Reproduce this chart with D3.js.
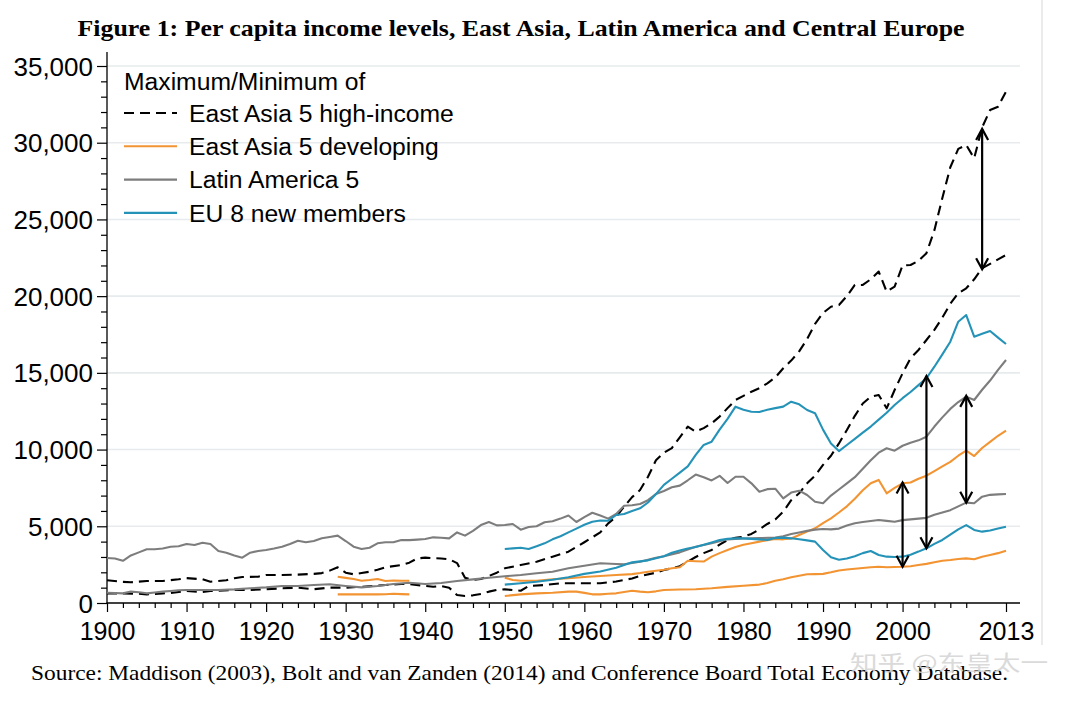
<!DOCTYPE html>
<html><head><meta charset="utf-8">
<script src="https://cdn.jsdelivr.net/npm/d3@7"></script>
<style>html,body{margin:0;padding:0;background:#fff;}svg{display:block;}</style>
</head><body>
<script>
// ---------- data ----------
const eahiMax = [[1900,1480],[1902,1380],[1903,1350],[1905,1430],[1907,1430],[1909,1545],[1910,1620],[1912,1545],[1913,1390],[1915,1480],[1916,1610],[1917,1690],[1919,1715],[1920,1825],[1922,1825],[1924,1850],[1926,1900],[1927,1950],[1928,2110],[1929,2325],[1930,1975],[1931,1870],[1932,1950],[1933,2040],[1934,2170],[1935,2330],[1937,2480],[1938,2630],[1939,2910],[1940,2955],[1941,2920],[1942,2900],[1943,2850],[1944,2600],[1945,1650],[1946,1500],[1947,1560],[1948,1760],[1949,1975],[1950,2260],[1952,2475],[1954,2690],[1956,3020],[1958,3345],[1960,3960],[1962,4600],[1963,5190],[1964,5625],[1965,6280],[1966,6900],[1967,7365],[1968,8230],[1969,9300],[1970,9800],[1971,10100],[1972,10800],[1973,11490],[1974,11165],[1975,11400],[1976,11710],[1977,12150],[1978,12700],[1979,13230],[1980,13500],[1981,13770],[1982,14000],[1983,14320],[1984,14700],[1985,15300],[1986,15800],[1987,16400],[1988,17200],[1989,18200],[1990,18900],[1991,19310],[1992,19420],[1993,20000],[1994,20730],[1995,20730],[1996,21100],[1997,21600],[1998,20290],[1999,20620],[2000,22000],[2001,22030],[2002,22300],[2003,22800],[2004,24300],[2005,26400],[2006,28400],[2007,29600],[2008,29850],[2009,28985],[2010,31000],[2011,32130],[2012,32350],[2013,33330]];
const eahiMin = [[1900,630],[1902,630],[1904,600],[1905,560],[1907,630],[1908,650],[1910,780],[1912,720],[1913,780],[1916,850],[1918,850],[1920,900],[1922,960],[1924,1000],[1926,900],[1928,1000],[1930,1000],[1932,1060],[1935,1170],[1937,1240],[1938,1240],[1940,1110],[1941,1060],[1942,1110],[1943,1000],[1944,520],[1945,455],[1946,500],[1947,590],[1948,740],[1949,850],[1950,890],[1951,850],[1952,800],[1953,1110],[1955,1170],[1957,1285],[1960,1285],[1962,1285],[1964,1400],[1966,1600],[1967,1760],[1969,1975],[1970,2150],[1971,2260],[1972,2400],[1973,2700],[1974,3000],[1975,3250],[1976,3455],[1977,3800],[1978,4110],[1979,4250],[1980,4320],[1981,4500],[1982,4800],[1983,5150],[1984,5450],[1985,5950],[1986,6700],[1987,7150],[1988,7800],[1989,8300],[1990,9000],[1991,9600],[1992,10400],[1993,11275],[1994,12200],[1995,13000],[1996,13450],[1997,13560],[1998,12690],[1999,13880],[2000,14970],[2001,15950],[2002,16490],[2003,17140],[2004,17800],[2005,18600],[2006,19500],[2007,20190],[2008,20510],[2009,21100],[2010,21815],[2011,22100],[2012,22400],[2013,22680]];
const eadvMax = [[1929,1715],[1930,1640],[1931,1560],[1932,1450],[1933,1500],[1934,1565],[1935,1430],[1936,1470],[1937,1450],[1938,1450],[1939,null],[1949,null],[1950,1650],[1951,1500],[1952,1450],[1954,1450],[1956,1545],[1958,1610],[1960,1690],[1962,1760],[1964,1825],[1966,1880],[1967,1950],[1968,2040],[1970,2170],[1971,2260],[1972,2330],[1973,2750],[1974,2720],[1975,2700],[1976,3020],[1977,3250],[1978,3450],[1979,3650],[1980,3800],[1981,3900],[1982,4000],[1983,4100],[1984,4170],[1985,4150],[1986,4200],[1987,4430],[1988,4650],[1989,4870],[1990,5200],[1991,5520],[1992,5900],[1993,6300],[1994,6800],[1995,7350],[1996,7800],[1997,8020],[1998,7150],[1999,7500],[2000,7800],[2001,7850],[2002,8100],[2003,8300],[2004,8600],[2005,8900],[2006,9200],[2007,9600],[2008,9930],[2009,9580],[2010,10100],[2011,10500],[2012,10900],[2013,11230]];
const eadvMin = [[1929,565],[1930,560],[1932,560],[1934,560],[1935,575],[1936,600],[1937,580],[1938,565],[1939,null],[1949,null],[1950,455],[1952,565],[1954,630],[1956,670],[1958,740],[1959,740],[1960,660],[1961,565],[1962,565],[1963,600],[1964,630],[1966,800],[1967,740],[1968,700],[1969,760],[1970,850],[1972,880],[1974,900],[1976,960],[1978,1050],[1980,1120],[1982,1200],[1983,1300],[1984,1450],[1985,1550],[1986,1680],[1987,1780],[1988,1870],[1989,1880],[1990,1900],[1991,2000],[1992,2120],[1993,2180],[1994,2230],[1995,2280],[1996,2330],[1997,2365],[1998,2330],[1999,2350],[2000,2365],[2001,2400],[2002,2475],[2003,2550],[2004,2650],[2005,2750],[2006,2800],[2007,2870],[2008,2910],[2009,2850],[2010,3020],[2011,3130],[2012,3250],[2013,3410]];
const laMax = [[1900,2930],[1901,2900],[1902,2750],[1903,3100],[1904,3300],[1905,3500],[1906,3500],[1907,3550],[1908,3670],[1909,3700],[1910,3845],[1911,3780],[1912,3930],[1913,3845],[1914,3390],[1915,3280],[1916,3100],[1917,2955],[1918,3280],[1919,3390],[1920,3450],[1921,3550],[1922,3670],[1923,3850],[1924,4060],[1925,3955],[1926,4040],[1927,4215],[1928,4300],[1929,4390],[1930,4040],[1931,3670],[1932,3520],[1933,3600],[1934,3890],[1935,3955],[1936,3955],[1937,4100],[1938,4100],[1939,4130],[1940,4170],[1941,4280],[1942,4250],[1943,4215],[1944,4600],[1945,4390],[1946,4700],[1947,5080],[1948,5280],[1949,5060],[1950,5080],[1951,5150],[1952,4780],[1953,4950],[1954,5000],[1955,5260],[1956,5330],[1957,5500],[1958,5700],[1959,5280],[1960,5600],[1961,5885],[1962,5700],[1963,5500],[1964,5800],[1965,6340],[1966,6370],[1967,6450],[1968,6700],[1969,7100],[1970,7300],[1971,7540],[1972,7650],[1973,8000],[1974,8370],[1975,8200],[1976,7990],[1977,8290],[1978,7820],[1979,8230],[1980,8230],[1981,7800],[1982,7250],[1983,7420],[1984,7450],[1985,6820],[1986,7200],[1987,7320],[1988,7040],[1989,6600],[1990,6500],[1991,7000],[1992,7400],[1993,7800],[1994,8200],[1995,8750],[1996,9300],[1997,9800],[1998,10085],[1999,9930],[2000,10250],[2001,10450],[2002,10600],[2003,10840],[2004,11500],[2005,12100],[2006,12650],[2007,13100],[2008,13450],[2009,13230],[2010,13900],[2011,14500],[2012,15200],[2013,15840]];
const laMin = [[1900,670],[1901,650],[1902,630],[1903,740],[1904,700],[1905,630],[1906,680],[1907,740],[1908,780],[1909,830],[1910,850],[1912,850],[1914,850],[1916,890],[1918,960],[1920,1020],[1922,1110],[1924,1110],[1926,1170],[1928,1220],[1930,1110],[1932,1020],[1934,1110],[1936,1240],[1938,1320],[1940,1240],[1942,1300],[1944,1430],[1946,1540],[1948,1650],[1950,1740],[1952,1825],[1954,1935],[1956,2040],[1958,2260],[1960,2430],[1962,2590],[1964,2540],[1965,2520],[1967,2690],[1969,2950],[1970,3050],[1972,3300],[1974,3670],[1976,3890],[1978,4150],[1980,4200],[1982,4230],[1984,4260],[1985,4350],[1986,4500],[1987,4600],[1988,4700],[1989,4780],[1990,4820],[1991,4800],[1992,4850],[1993,5050],[1994,5200],[1995,5280],[1996,5350],[1997,5410],[1998,5350],[1999,5300],[2000,5400],[2001,5450],[2002,5500],[2003,5550],[2004,5750],[2005,5900],[2006,6050],[2007,6300],[2008,6540],[2009,6500],[2010,6930],[2011,7050],[2012,7080],[2013,7105]];
const euMax = [[1950,3520],[1951,3560],[1952,3600],[1953,3520],[1954,3700],[1955,3890],[1956,4150],[1957,4350],[1958,4600],[1959,4850],[1960,5100],[1961,5300],[1962,5380],[1963,5365],[1964,5735],[1965,5800],[1966,6000],[1967,6170],[1968,6550],[1969,7100],[1970,7700],[1971,8100],[1972,8500],[1973,8900],[1974,9650],[1975,10300],[1976,10515],[1977,11300],[1978,12000],[1979,12795],[1980,12600],[1981,12470],[1982,12450],[1983,12600],[1984,12700],[1985,12800],[1986,13120],[1987,12950],[1988,12580],[1989,12365],[1990,11300],[1991,10400],[1992,9900],[1993,10300],[1994,10700],[1995,11100],[1996,11500],[1997,11950],[1998,12400],[1999,12900],[2000,13350],[2001,13750],[2002,14200],[2003,14650],[2004,15400],[2005,16200],[2006,17030],[2007,18335],[2008,18770],[2009,17360],[2010,17550],[2011,17730],[2012,17300],[2013,16880]];
const euMin = [[1950,1200],[1952,1285],[1954,1390],[1956,1520],[1958,1680],[1960,1900],[1962,2050],[1964,2300],[1966,2650],[1968,2780],[1970,3050],[1971,3280],[1972,3420],[1973,3550],[1974,3650],[1975,3800],[1976,3950],[1977,4100],[1978,4180],[1979,4210],[1980,4215],[1981,4180],[1982,4150],[1983,4110],[1984,4230],[1985,4260],[1986,4215],[1987,4150],[1988,4080],[1989,4000],[1990,3455],[1991,2980],[1992,2820],[1993,2900],[1994,3050],[1995,3250],[1996,3390],[1997,3130],[1998,3020],[1999,3000],[2000,3020],[2001,3150],[2002,3350],[2003,3565],[2004,3850],[2005,4110],[2006,4450],[2007,4800],[2008,5080],[2009,4760],[2010,4650],[2011,4720],[2012,4850],[2013,4975]];
const arrowYears = [2000, 2003, 2008, 2010];
const arrowLow = [2365, 3565, 6540, 21750];
const arrowHigh = [7850, 14800, 13500, 30900];
const legendLabels = ["East Asia 5 high-income","East Asia 5 developing","Latin America 5","EU 8 new members"];
const yMajorTicks = [0,5000,10000,15000,20000,25000,30000,35000];
const xLabelTicks = [1900,1910,1920,1930,1940,1950,1960,1970,1980,1990,2000,2013];
const titleText = "Figure 1: Per capita income levels, East Asia, Latin America and Central Europe";
const sourceText = "Source: Maddison (2003), Bolt and van Zanden (2014) and Conference Board Total Economy Database.";

// ---------- styles ----------
const C_ORANGE = "#f39433", C_GREY = "#7d7d7d", C_BLUE = "#2593b8", C_BLACK = "#000";
const series = [
  {data: eahiMax, color: C_BLACK, dash: "10,6"},
  {data: eahiMin, color: C_BLACK, dash: "10,6"},
  {data: eadvMax, color: C_ORANGE},
  {data: eadvMin, color: C_ORANGE},
  {data: laMax, color: C_GREY},
  {data: laMin, color: C_GREY},
  {data: euMax, color: C_BLUE},
  {data: euMin, color: C_BLUE}
];

const W = 1078, H = 702;
const svg = d3.select("body").append("svg").attr("width", W).attr("height", H);
const x = d3.scaleLinear().domain([1900, 2013]).range([107, 1006]);
const y = d3.scaleLinear().domain([0, 35000]).range([603, 66]);
const SANS = "'Liberation Sans', Arial, sans-serif";
const SERIF = "'Liberation Serif', 'Times New Roman', serif";

// image border line at right
svg.append("line").attr("x1",1042).attr("x2",1042).attr("y1",0).attr("y2",645).attr("stroke","#e4e4e4").attr("stroke-width",1.5);

// gridlines
svg.append("g").selectAll("line").data(yMajorTicks.filter(d=>d>0)).join("line")
  .attr("x1", 107).attr("x2", 1020).attr("y1", d=>y(d)).attr("y2", d=>y(d))
  .attr("stroke", "#e7ebed").attr("stroke-width", 1.6);

// title
svg.append("text").attr("x", 521).attr("y", 36).attr("text-anchor","middle")
  .attr("font-family", SERIF).attr("font-weight","bold").attr("font-size", 22.5)
  .attr("textLength", 887).attr("lengthAdjust","spacingAndGlyphs").text(titleText);

// y axis
const yMinor = d3.range(0, 35001, 1000).filter(d => d % 5000 !== 0);
const gyMinor = svg.append("g").attr("transform","translate(107,0)")
  .call(d3.axisLeft(y).tickValues(yMinor).tickSize(6).tickFormat(""));
gyMinor.select(".domain").remove();
gyMinor.selectAll("line").attr("stroke","#000").attr("stroke-width",1.2);
const gy = svg.append("g").attr("transform","translate(107,0)")
  .call(d3.axisLeft(y).tickValues(yMajorTicks).tickSize(10).tickPadding(4).tickFormat(d3.format(",")));
gy.select(".domain").remove();
gy.selectAll("line").attr("stroke","#000").attr("stroke-width",1.2);
gy.selectAll("text").attr("font-family", SANS).attr("font-size", 26).attr("fill","#000").attr("dy","0.35em");
svg.append("line").attr("x1",107).attr("x2",107).attr("y1",603.5).attr("y2",52).attr("stroke","#000").attr("stroke-width",1.3);

// x axis
const xMinor = d3.range(1902, 2011, 2).filter(d => d % 10 !== 0);
const gxMinor = svg.append("g").attr("transform","translate(0,603)")
  .call(d3.axisBottom(x).tickValues(xMinor).tickSize(5).tickFormat(""));
gxMinor.select(".domain").remove();
gxMinor.selectAll("line").attr("stroke","#000").attr("stroke-width",1.2);
const gx = svg.append("g").attr("transform","translate(0,603)")
  .call(d3.axisBottom(x).tickValues(xLabelTicks).tickSize(9).tickPadding(10).tickFormat(d3.format("d")));
gx.select(".domain").remove();
gx.selectAll("line").attr("stroke","#000").attr("stroke-width",1.2);
gx.selectAll("text").attr("font-family", SANS).attr("font-size", 25).attr("fill","#000").attr("dy","0.71em");
svg.append("line").attr("x1",106.5).attr("x2",1020).attr("y1",603).attr("y2",603).attr("stroke","#000").attr("stroke-width",1.3);

// lines
const line = d3.line().defined(d => d[1] != null).x(d => x(d[0])).y(d => y(d[1]));
const gl = svg.append("g");
series.forEach(s => {
  gl.append("path").datum(s.data).attr("d", line).attr("fill","none")
    .attr("stroke", s.color).attr("stroke-width", 2.1)
    .attr("stroke-dasharray", s.dash || null).attr("stroke-linejoin","round");
});

// arrows
const ga = svg.append("g").attr("stroke","#000").attr("stroke-width",2.2).attr("fill","none");
arrowYears.forEach((yr, i) => {
  const ax = x(yr), y1 = y(arrowHigh[i]), y2 = y(arrowLow[i]);
  ga.append("line").attr("x1",ax).attr("x2",ax).attr("y1",y1).attr("y2",y2);
  ga.append("path").attr("d", `M${ax-6},${y1+11}L${ax},${y1}L${ax+6},${y1+11}`);
  ga.append("path").attr("d", `M${ax-6},${y2-11}L${ax},${y2}L${ax+6},${y2-11}`);
});

// legend
const lg = svg.append("g").attr("font-family", SANS).attr("font-size", 24.7).attr("fill","#000");
lg.append("text").attr("x",124).attr("y",89.5).text("Maximum/Minimum of");
const legColors = [C_BLACK, C_ORANGE, C_GREY, C_BLUE];
legendLabels.forEach((lab, i) => {
  const cy = 113 + i * 33.3;
  lg.append("line").attr("x1",124).attr("x2",177).attr("y1",cy).attr("y2",cy)
    .attr("stroke", legColors[i]).attr("stroke-width",2.1)
    .attr("stroke-dasharray", i === 0 ? "10,6" : null);
  lg.append("text").attr("x",189).attr("y",cy+8.8).text(lab);
});

// source
svg.append("text").attr("x",31).attr("y",680).attr("font-family", SERIF).attr("font-size", 21.5)
  .attr("textLength", 977).attr("lengthAdjust","spacingAndGlyphs").text(sourceText);

// watermark
svg.append("text").attr("x",850).attr("y",670).attr("font-family","'Noto Sans CJK SC', sans-serif")
  .attr("font-size",21).attr("fill","#d4d4d4").attr("opacity",0.85)
  .attr("textLength",198).attr("lengthAdjust","spacingAndGlyphs").text("知乎 @东皇太一");
</script>
</body></html>
